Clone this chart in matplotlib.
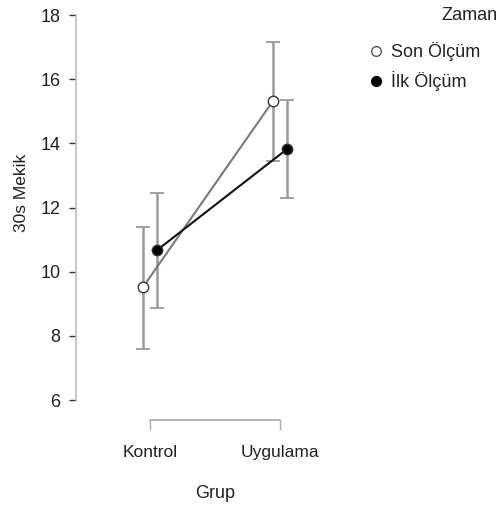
import matplotlib
matplotlib.use("Agg")
import matplotlib.pyplot as plt
from matplotlib.lines import Line2D
from matplotlib import font_manager as fm
import numpy as np

groups = ["Kontrol", "Uygulama"]
series = ["Son Ölçüm", "İlk Ölçüm"]
son_mean = [9.52, 15.32]
son_low = [7.59, 13.46]
son_high = [11.39, 17.17]
ilk_mean = [10.67, 13.82]
ilk_low = [8.88, 12.30]
ilk_high = [12.45, 15.35]
yticks = [6, 8, 10, 12, 14, 16, 18]

names = {f.name for f in fm.fontManager.ttflist}
narrow = "Liberation Sans Narrow" if "Liberation Sans Narrow" in names else "Liberation Sans"
reg = "Liberation Sans"

W, H = 504, 511
fig = plt.figure(figsize=(W / 100, H / 100), dpi=100)
ax = fig.add_axes([76 / W, (H - 400) / H, (340 - 76) / W, 385 / H])

x = np.arange(len(groups))
dodge = 7 / 130
xlim = (-(150 - 76) / 130, (340 - 150) / 130)

def draw(xs, mean, low, high, mfc, lc, z):
    mean = np.array(mean)
    yerr = np.vstack([mean - np.array(low), np.array(high) - mean])
    ax.plot(xs, mean, color=lc, lw=1.5, zorder=z)
    eb = ax.errorbar(xs, mean, yerr=yerr, fmt="none", ecolor="#9a9a9a",
                     elinewidth=1.8, capsize=5.2, capthick=1.3, zorder=z - 1)
    for c in eb[1]:
        c.set_color("#222222")
    ax.plot(xs, mean, linestyle="none", marker="o", markersize=7.5,
            markerfacecolor=mfc, markeredgecolor="#333333", markeredgewidth=1.0, zorder=z + 1)

draw(x - dodge, son_mean, son_low, son_high, "white", "#7a7a7a", 4)
draw(x + dodge, ilk_mean, ilk_low, ilk_high, "black", "#111111", 4)

ax.set_xlim(*xlim)
ax.set_ylim(6, 18)
ax.set_yticks(yticks)
ax.set_yticklabels([str(v) for v in yticks])
ax.set_xticks(x)
ax.set_xticklabels(groups)

for s in ["top", "right"]:
    ax.spines[s].set_visible(False)
ax.spines["left"].set_color("#bbbbbb")
ax.spines["left"].set_linewidth(1.2)
ax.spines["bottom"].set_position(("outward", 14.4))
ax.spines["bottom"].set_bounds(0, 1)
ax.spines["bottom"].set_color("#aaaaaa")
ax.spines["bottom"].set_linewidth(1.2)
ax.tick_params(axis="y", length=5, width=1.0, color="#333333", pad=6)
ax.tick_params(axis="x", length=7, width=1.0, color="#aaaaaa", pad=11)
for lab in ax.get_yticklabels():
    lab.set_fontfamily(reg)
    lab.set_fontsize(13)
    lab.set_color("#222222")
for lab in ax.get_xticklabels():
    lab.set_fontfamily(narrow)
    lab.set_fontsize(12.5)
    lab.set_color("#222222")

fig.text(22 / W, 1 - 193 / H, "30s Mekik", rotation=90, ha="center", va="center",
         family=reg, fontsize=12.5, color="#222222")
fig.text(215 / W, 1 - 493 / H, "Grup", ha="center", va="center",
         family=narrow, fontsize=13, color="#222222")

fig.text(497 / W, 1 - 16 / H, "Zaman", ha="right", va="center",
         family=narrow, fontsize=13, color="#222222")
handles = [
    Line2D([], [], linestyle="none", marker="o", markersize=7, markerfacecolor="white",
           markeredgecolor="#555555"),
    Line2D([], [], linestyle="none", marker="o", markersize=7, markerfacecolor="black",
           markeredgecolor="black"),
]
leg = fig.legend(handles, series, loc="upper left", bbox_to_anchor=(371 / W, 1 - 42 / H),
                 frameon=False, prop={"family": narrow, "size": 13}, handlelength=0.6,
                 handletextpad=0.5, labelspacing=0.55, borderpad=0, borderaxespad=0)
for t in leg.get_texts():
    t.set_color("#222222")

fig.savefig("out.png", dpi=100)
